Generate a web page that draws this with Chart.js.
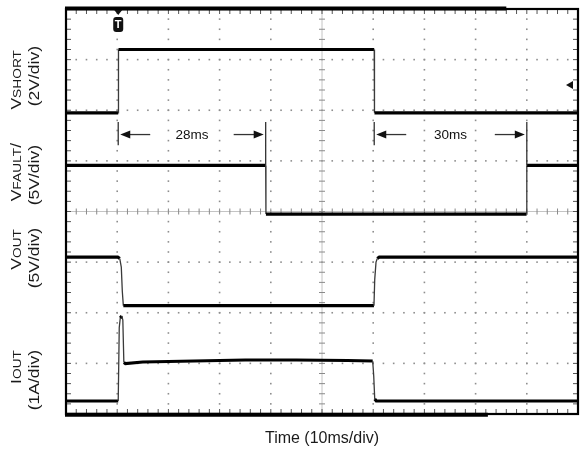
<!DOCTYPE html>
<html>
<head>
<meta charset="utf-8">
<style>
  html, body { margin: 0; padding: 0; background: #fff; }
  #wrap { width: 580px; height: 453px; }
</style>
<script src="https://cdn.jsdelivr.net/npm/chart.js@4.4.1/dist/chart.umd.min.js"></script>
</head>
<body>
<div id="wrap"><canvas id="scope" width="580" height="453"></canvas></div>
<script>
// Time base: 10ms/div, 10 divisions across the screen
const timeMin = 0
const timeMax = 100
const timeDiv = 10
// 8 vertical divisions, every channel has its own ground level (in divisions)
const divMax = 8

// V_SHORT, volts
const vshortTime = [0, 10.2, 10.25, 60.2, 60.25, 100]
const vshortVolts = [0, 0, 2.5, 2.5, 0, 0]

// V_FAULT, volts
const vfaultTime = [0, 39.0, 39.05, 89.95, 90.0, 100]
const vfaultVolts = [4.8, 4.8, 0, 0, 4.8, 4.8]

// V_OUT, volts
const voutTime = [0, 10.1, 10.5, 10.8, 11.0, 11.2, 60.15, 60.3, 60.55, 60.8, 61.2, 100]
const voutVolts = [4.8, 4.8, 4.65, 3.8, 1.4, 0, 0, 2.6, 4.3, 4.65, 4.8, 4.8]

// I_OUT, amps
const ioutTime = [0, 10.2, 10.4, 10.6, 10.9, 11.1, 11.3, 11.6, 15, 25, 35, 45, 55, 59.9, 60.1, 60.3, 60.6, 100]
const ioutAmps = [0, 0, 1.45, 1.64, 1.68, 1.6, 0.76, 0.74, 0.77, 0.79, 0.81, 0.81, 0.8, 0.79, 0.5, 0.04, 0, 0]

// Measured intervals shown between the two upper traces
const spanStart = [10.2, 60.2]
const spanEnd = [39.0, 90.0]
const spanLabels = ['28ms', '30ms']

const triggerTime = 10.2
const triggerLevel = 1.1  // volts on V_SHORT

const channels = [
  { time: vshortTime, values: vshortVolts, perDiv: 2, ground: 5.95 },
  { time: vfaultTime, values: vfaultVolts, perDiv: 5, ground: 3.95 },
  { time: voutTime, values: voutVolts, perDiv: 5, ground: 2.14 },
  { time: ioutTime, values: ioutAmps, perDiv: 1, ground: 0.257 }
]

// Left-hand channel captions: [text, size] runs, then the scale line
const captions = [
  { name: [['V', 14], ['SHORT', 11]], scale: '(2V/div)', top: [50, 46] },
  { name: [['V', 14], ['FAULT', 11], ['/', 14]], scale: '(5V/div)', top: [143, 145] },
  { name: [['V', 14], ['OUT', 11]], scale: '(5V/div)', top: [229, 228] },
  { name: [['I', 14], ['OUT', 11]], scale: '(1A/div)', top: [350, 350] }
]
// caption lettering is drawn a little wide
const captionStretch = 1.25

const FONT = '"Liberation Sans", Arial, sans-serif'
Chart.defaults.font.family = FONT

function toDiv(ch, v) {
  return ch.ground + v / ch.perDiv
}

// Dotted graticule with the centre cross and edge ticks
const graticule = {
  id: 'graticule',
  beforeDatasetsDraw(chart) {
    const { ctx, chartArea: a, scales: { x, y } } = chart
    const nx = (timeMax - timeMin) / timeDiv
    ctx.save()
    ctx.fillStyle = '#8e8e8e'
    for (let i = 1; i < nx; i++) {
      if (i === nx / 2) continue
      const px = x.getPixelForValue(timeMin + i * timeDiv)
      for (let k = 0; k <= divMax * 5; k++) {
        ctx.fillRect(px - 0.8, y.getPixelForValue(k / 5) - 0.8, 1.6, 1.6)
      }
    }
    for (let j = 1; j < divMax; j++) {
      if (j === divMax / 2) continue
      const py = y.getPixelForValue(j)
      for (let k = 0; k <= nx * 5; k++) {
        ctx.fillRect(x.getPixelForValue(timeMin + k * timeDiv / 5) - 0.8, py - 0.8, 1.6, 1.6)
      }
    }

    // centre cross
    const cx = x.getPixelForValue((timeMin + timeMax) / 2)
    const cy = y.getPixelForValue(divMax / 2)
    ctx.strokeStyle = '#c4c4c4'
    ctx.lineWidth = 1
    ctx.beginPath()
    ctx.moveTo(cx, a.top); ctx.lineTo(cx, a.bottom)
    ctx.moveTo(a.left, cy); ctx.lineTo(a.right, cy)
    ctx.stroke()
    ctx.strokeStyle = '#8a8a8a'
    ctx.beginPath()
    for (let k = 1; k < divMax * 5; k++) {
      const py = y.getPixelForValue(k / 5)
      ctx.moveTo(cx - 3, py); ctx.lineTo(cx + 3, py)
    }
    for (let k = 1; k < nx * 5; k++) {
      const px = x.getPixelForValue(timeMin + k * timeDiv / 5)
      ctx.moveTo(px, cy - 3); ctx.lineTo(px, cy + 3)
    }
    ctx.stroke()

    // ticks along the frame
    ctx.strokeStyle = '#555'
    ctx.beginPath()
    for (let k = 1; k < nx * 5; k++) {
      const px = x.getPixelForValue(timeMin + k * timeDiv / 5)
      ctx.moveTo(px, a.top); ctx.lineTo(px, a.top + 5)
      ctx.moveTo(px, a.bottom); ctx.lineTo(px, a.bottom - 5)
    }
    for (let k = 1; k < divMax * 5; k++) {
      const py = y.getPixelForValue(k / 5)
      ctx.moveTo(a.left, py); ctx.lineTo(a.left + 5, py)
      ctx.moveTo(a.right, py); ctx.lineTo(a.right - 5, py)
    }
    ctx.stroke()
    ctx.restore()
  }
}

function arrowHead(ctx, x0, x1, y) {
  const dir = Math.sign(x1 - x0)
  ctx.beginPath()
  ctx.moveTo(x0, y); ctx.lineTo(x1 - dir * 8, y)
  ctx.stroke()
  ctx.beginPath()
  ctx.moveTo(x1, y)
  ctx.lineTo(x1 - dir * 10, y - 4)
  ctx.lineTo(x1 - dir * 10, y + 4)
  ctx.closePath()
  ctx.fill()
}

// Frame, trigger markers, interval arrows and channel captions
const overlay = {
  id: 'overlay',
  afterDatasetsDraw(chart) {
    const { ctx, chartArea: a, scales: { x, y } } = chart
    ctx.save()

    // frame
    ctx.strokeStyle = '#000'
    ctx.lineWidth = 2.2
    ctx.strokeRect(a.left, a.top, a.right - a.left, a.bottom - a.top)
    ctx.lineWidth = 4
    ctx.beginPath()
    ctx.moveTo(a.left - 1, a.top - 0.5); ctx.lineTo(x.getPixelForValue(86), a.top - 0.5)
    ctx.moveTo(a.left - 1, a.bottom + 0.8); ctx.lineTo(x.getPixelForValue(82.4), a.bottom + 0.8)
    ctx.stroke()

    // trigger position badge
    const tx = x.getPixelForValue(triggerTime)
    ctx.fillStyle = '#111'
    ctx.beginPath()
    ctx.moveTo(tx - 4, a.top + 1); ctx.lineTo(tx + 4, a.top + 1); ctx.lineTo(tx, a.top + 6)
    ctx.closePath(); ctx.fill()
    ctx.beginPath()
    ctx.roundRect(tx - 5, a.top + 8, 10, 15, 3)
    ctx.fill()
    ctx.fillStyle = '#fff'
    ctx.font = 'bold 11px ' + FONT
    ctx.textAlign = 'center'
    ctx.textBaseline = 'middle'
    ctx.fillText('T', tx, a.top + 16)

    // trigger level marker on the right edge
    const ly = y.getPixelForValue(toDiv(channels[0], triggerLevel))
    ctx.fillStyle = '#111'
    ctx.beginPath()
    ctx.moveTo(a.right - 12, ly); ctx.lineTo(a.right - 5, ly - 4); ctx.lineTo(a.right - 5, ly + 4)
    ctx.closePath(); ctx.fill()

    // interval arrows
    const arrowY = y.getPixelForValue(5.52)
    const markTop = y.getPixelForValue(5.77)
    const leftBottom = y.getPixelForValue(5.31)
    const rightBottom = y.getPixelForValue(toDiv(channels[1], vfaultVolts[0]))
    ctx.strokeStyle = '#333'
    ctx.fillStyle = '#111'
    ctx.lineWidth = 1.3
    ctx.font = '13.5px ' + FONT
    for (let i = 0; i < spanLabels.length; i++) {
      const x0 = x.getPixelForValue(spanStart[i])
      const x1 = x.getPixelForValue(spanEnd[i])
      ctx.beginPath()
      ctx.moveTo(x0, markTop); ctx.lineTo(x0, leftBottom)
      ctx.moveTo(x1, markTop); ctx.lineTo(x1, rightBottom)
      ctx.stroke()
      arrowHead(ctx, x0 + 32, x0 + 2, arrowY)
      arrowHead(ctx, x1 - 32, x1 - 2, arrowY)
      ctx.textAlign = 'center'
      ctx.textBaseline = 'middle'
      ctx.fillText(spanLabels[i], (x0 + x1) / 2, arrowY + 0.5)
    }

    // rotated channel captions
    ctx.fillStyle = '#1a1a1a'
    ctx.textBaseline = 'alphabetic'
    ctx.textAlign = 'left'
    ctx.rotate(-Math.PI / 2)
    ctx.scale(captionStretch, 1)
    captions.forEach(c => {
      let width = 0
      c.name.forEach(([t, s]) => { ctx.font = s + 'px ' + FONT; width += ctx.measureText(t).width })
      let pos = -c.top[0] / captionStretch - width
      c.name.forEach(([t, s]) => {
        ctx.font = s + 'px ' + FONT
        ctx.fillText(t, pos, 21)
        pos += ctx.measureText(t).width
      })
      ctx.font = '14px ' + FONT
      ctx.fillText(c.scale, -c.top[1] / captionStretch - ctx.measureText(c.scale).width, 39)
    })
    ctx.restore()
  }
}

new Chart(document.getElementById('scope'), {
  type: 'line',
  data: {
    datasets: channels.map(ch => ({
      data: ch.time.map((t, i) => ({ x: t, y: toDiv(ch, ch.values[i]) })),
      borderColor: '#000',
      borderWidth: 3.2,
      pointRadius: 0,
      tension: 0,
      fill: false,
      segment: {
        // edges look thin and grey, flat parts are thick and noisy
        borderWidth: ctx => Math.abs(ctx.p1.y - ctx.p0.y) > Math.abs(ctx.p1.x - ctx.p0.x) * 2 ? 1.3 : 3.2,
        borderColor: ctx => Math.abs(ctx.p1.y - ctx.p0.y) > Math.abs(ctx.p1.x - ctx.p0.x) * 2 ? '#3a3a3a' : '#000'
      }
    }))
  },
  options: {
    responsive: false,
    animation: false,
    layout: {
      padding: { left: 66, top: 9, right: 2, bottom: 4.4 }
    },
    plugins: {
      legend: { display: false },
      tooltip: { enabled: false }
    },
    scales: {
      x: {
        type: 'linear',
        min: timeMin,
        max: timeMax,
        ticks: { display: false },
        grid: { display: false, drawTicks: false },
        border: { display: false },
        title: {
          display: true,
          text: 'Time (10ms/div)',
          color: '#1a1a1a',
          font: { size: 16 },
          padding: { top: 15.4, bottom: 0 }
        }
      },
      y: {
        display: false,
        min: 0,
        max: divMax
      }
    }
  },
  plugins: [graticule, overlay]
})
</script>
</body>
</html>
